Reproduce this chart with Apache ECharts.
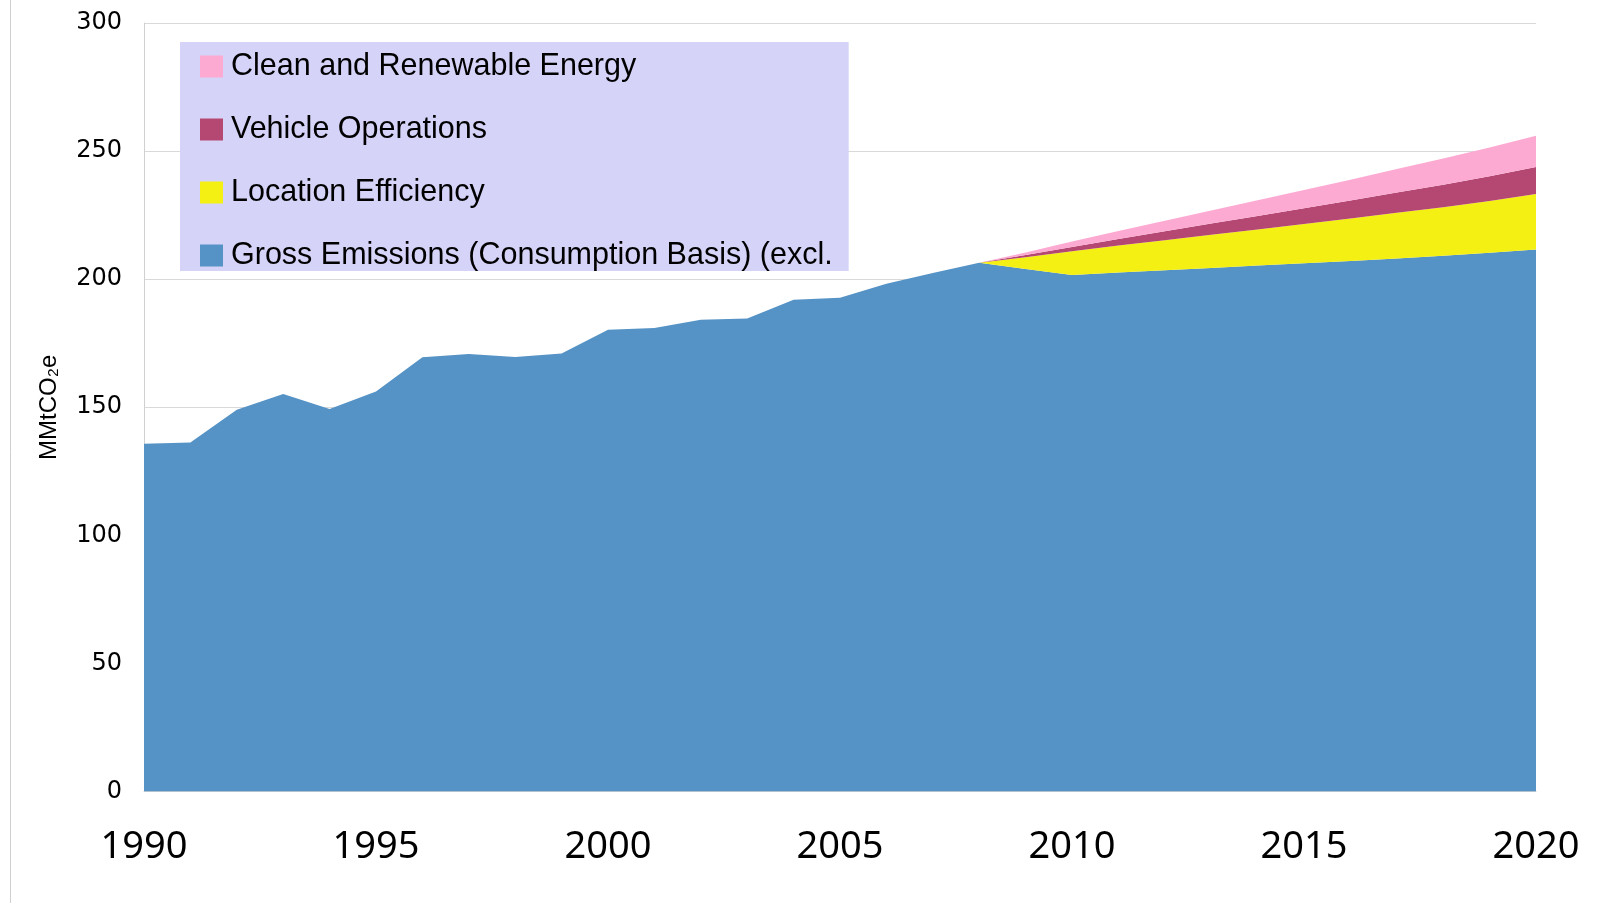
<!DOCTYPE html>
<html>
<head>
<meta charset="utf-8">
<script src="https://cdn.jsdelivr.net/npm/echarts@6/dist/echarts.min.js"></script>
<style>
html,body{margin:0;padding:0;background:#fff;}
#chart{width:1616px;height:903px;}
</style>
</head>
<body>
<div id="chart"></div>
<script>
var years = [];
for (var y = 1990; y <= 2020; y++) years.push(String(y));

var seriesNames = ['Gross Emissions (Consumption Basis) (excl.', 'Location Efficiency', 'Vehicle Operations', 'Clean and Renewable Energy'];

var gross = [135.8, 136.2, 149.0, 155.2, 149.3, 156.1, 169.5, 170.8, 169.6, 171.0,
             180.3, 180.9, 184.2, 184.6, 192.0, 192.7, 198.2, 202.4, 206.4, 204.0,
             201.6, 202.6, 203.5, 204.4, 205.3, 206.2, 207.1, 208.1, 209.1, 210.3, 211.6];
var locationEff = [null, null, null, null, null, null, null, null, null, null,
                   null, null, null, null, null, null, null, null, 0, 4.6,
                   9.3, 10.5, 11.7, 12.9, 14.1, 15.3, 16.6, 17.8, 19.0, 20.2, 21.6];
var vehicleOps = [null, null, null, null, null, null, null, null, null, null,
                  null, null, null, null, null, null, null, null, 0, 0.8,
                  1.7, 2.6, 3.5, 4.4, 5.3, 6.2, 7.0, 7.9, 8.8, 9.7, 10.6];
var cleanEnergy = [null, null, null, null, null, null, null, null, null, null,
                   null, null, null, null, null, null, null, null, 0, 1.0,
                   2.1, 3.1, 4.1, 5.1, 6.1, 7.1, 8.1, 9.2, 10.2, 11.2, 12.2];

var colors = ['#5592c5', '#f5f014', '#b44873', '#fdaad2'];
var dataSets = [gross, locationEff, vehicleOps, cleanEnergy];

var chart = echarts.init(document.getElementById('chart'), null, {renderer: 'canvas'});

var series = seriesNames.map(function (name, i) {
  return {
    name: name,
    type: 'line',
    stack: 'total',
    data: dataSets[i],
    showSymbol: false,
    symbol: 'none',
    lineStyle: {width: 0, color: colors[i]},
    itemStyle: {color: colors[i]},
    areaStyle: {color: colors[i], opacity: 1},
    z: 2 + i
  };
});

chart.setOption({
  animation: false,
  backgroundColor: '#ffffff',
  grid: {left: 144, right: 80, top: 23, bottom: 111.5, containLabel: false},
  legend: {
    left: 180,
    top: 42,
    orient: 'vertical',
    backgroundColor: '#d5d3f8',
    padding: [9, 16, 0, 20],
    itemGap: 32,
    itemWidth: 23,
    itemHeight: 22,
    icon: 'rect',
    data: ['Clean and Renewable Energy', 'Vehicle Operations', 'Location Efficiency', 'Gross Emissions (Consumption Basis) (excl.'],
    textStyle: {
      fontFamily: 'Liberation Sans',
      fontSize: 30.5,
      color: '#000',
      lineHeight: 28,
      padding: [0, 0, 0, 3]
    },
    itemStyle: {borderWidth: 0}
  },
  xAxis: {
    type: 'category',
    data: years,
    boundaryGap: false,
    axisLine: {show: true, lineStyle: {color: '#d0d0d0', width: 1}},
    axisTick: {show: false},
    axisLabel: {
      interval: 4,
      fontFamily: 'Noto Sans',
      fontSize: 38,
      color: '#000',
      margin: 37
    },
    splitLine: {show: false}
  },
  yAxis: {
    type: 'value',
    min: 0,
    max: 300,
    interval: 50,
    name: 'MMtCO\u2082e',
    nameLocation: 'middle',
    nameGap: 83,
    nameTextStyle: {fontFamily: 'Liberation Sans Narrow, Liberation Sans', fontSize: 24, color: '#000'},
    axisLine: {show: true, lineStyle: {color: '#d0d0d0', width: 1}},
    axisTick: {show: false},
    axisLabel: {fontFamily: 'DejaVu Sans', fontSize: 24, color: '#000', margin: 22, padding: [4, 0, 0, 0]},
    splitLine: {show: true, lineStyle: {color: '#d9d9d9', width: 1}}
  },
  graphic: [{
    type: 'line',
    shape: {x1: 10.5, y1: 0, x2: 10.5, y2: 903},
    style: {stroke: '#cfcfcf', lineWidth: 1},
    silent: true
  }],
  series: series
});
</script>
</body>
</html>
